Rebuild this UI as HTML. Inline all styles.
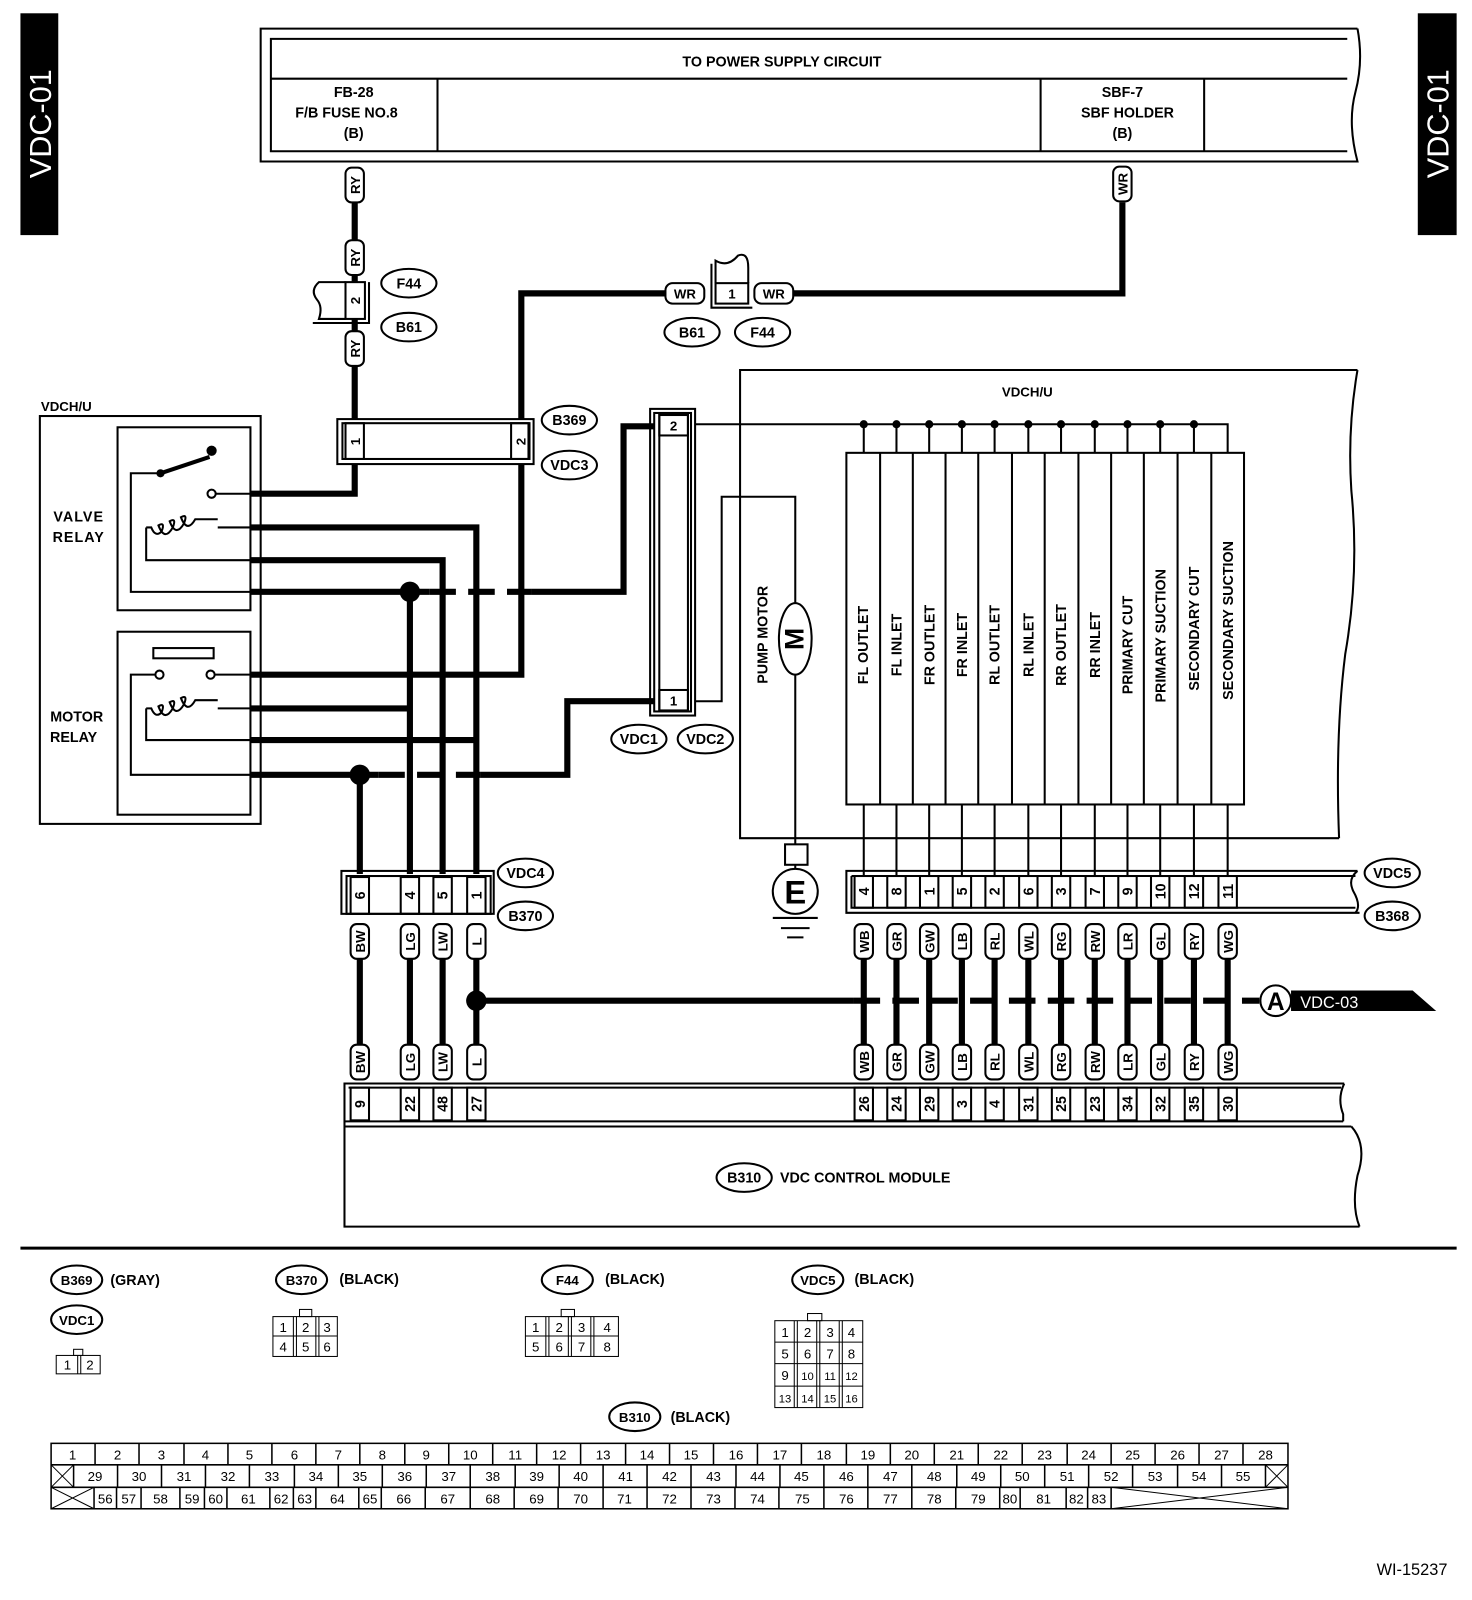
<!DOCTYPE html>
<html><head><meta charset="utf-8"><style>
body{margin:0;background:#fff}
svg{display:block}
text{font-family:"Liberation Sans",Arial,sans-serif;font-weight:bold;fill:#000}
.t{stroke:#000;stroke-width:2;fill:none}
.w{stroke:#000;stroke-width:6;fill:none}
.d{stroke:#000;stroke-width:6;fill:none;stroke-dasharray:26 12}
.p rect{fill:#fff;stroke:#000;stroke-width:2}
.p text{font-size:13px;text-anchor:middle}
.b ellipse{fill:#fff;stroke:#000;stroke-width:2}
.b text{font-size:14px;text-anchor:middle}
.n text{font-size:14px;text-anchor:middle}
.tb text{font-size:13px;font-weight:normal;text-anchor:middle}
</style></head><body>
<svg width="1472" height="1600" viewBox="0 0 1472 1600" xmlns="http://www.w3.org/2000/svg">
<g transform="scale(1.0222)">
<!-- side tabs -->
<rect x="20" y="13" width="37" height="217" fill="#000"/>
<text transform="translate(50,121) rotate(-90)" text-anchor="middle" style="font-size:30px;font-weight:normal;fill:#fff">VDC-01</text>
<rect x="1387" y="13" width="38" height="217" fill="#000"/>
<text transform="translate(1417,121) rotate(-90)" text-anchor="middle" style="font-size:30px;font-weight:normal;fill:#fff">VDC-01</text>

<!-- header -->
<path class="t" d="M1328,28 H255 V158 H1328 Q1318,120 1326,90 Q1334,60 1328,28"/>
<path class="t" d="M1318,38 H265 V148 H1318"/>
<path class="t" d="M265,77 H1318 M428,77 V148 M1018,77 V148 M1178,77 V148"/>
<text x="765" y="65" text-anchor="middle" style="font-size:14px">TO POWER SUPPLY CIRCUIT</text>
<text x="346" y="95" text-anchor="middle" style="font-size:14px">FB-28</text>
<text x="339" y="115" text-anchor="middle" style="font-size:14px">F/B FUSE NO.8</text>
<text x="346" y="135" text-anchor="middle" style="font-size:14px">(B)</text>
<text x="1098" y="95" text-anchor="middle" style="font-size:14px">SBF-7</text>
<text x="1103" y="115" text-anchor="middle" style="font-size:14px">SBF HOLDER</text>
<text x="1098" y="135" text-anchor="middle" style="font-size:14px">(B)</text>

<!-- thick wires top -->
<path class="w" d="M347,198 V235 M347,268 V276 M347,312 V325 M347,357 V410"/>
<path class="w" d="M510,410 V287 H651 M776,287 H1098 V198"/>
<path class="w" d="M347,454 V483 H245 M510,454 V660 H245"/>
<path class="w" d="M245,516 H466 V855 M245,548 H433 V855 M245,579 H420 M401,579 V855 M520,579 H610 V417 H640"/>
<path class="d" d="M420,579 H520"/>
<path class="w" d="M245,693 H401 M245,724 H466 M245,758 H370 M352,758 V855 M470,758 H555 V686 H640"/>
<path class="d" d="M370,758 H470"/>
<circle cx="401" cy="579" r="10"/><circle cx="352" cy="758" r="10"/>

<!-- left F44/B61 connector -->
<path class="t" d="M338,276 H312 Q303,284 310,293 Q316,300 312,312 H338" fill="#fff"/>
<rect x="338" y="276" width="19" height="36" class="t" fill="#fff"/>
<path class="t" d="M361,276 V316 H306"/>
<text transform="translate(352,294) rotate(-90)" text-anchor="middle" style="font-size:13px">2</text>
<!-- right connector -->
<path class="t" d="M700,277 V255 Q712,262 722,250 Q732,246 732,262 V277"/>
<rect x="700" y="277" width="32" height="20" class="t" fill="#fff"/>
<path class="t" d="M696,258 V301 H736"/>
<text x="716" y="292" text-anchor="middle" style="font-size:13px">1</text>

<!-- pills top -->
<g class="p">
<g transform="translate(347,181)"><rect x="-9" y="-17" width="18" height="34" rx="6"/><text transform="rotate(-90)" y="5">RY</text></g>
<g transform="translate(347,252)"><rect x="-9" y="-17" width="18" height="34" rx="6"/><text transform="rotate(-90)" y="5">RY</text></g>
<g transform="translate(347,341)"><rect x="-9" y="-17" width="18" height="34" rx="6"/><text transform="rotate(-90)" y="5">RY</text></g>
<g transform="translate(1098,180)"><rect x="-9" y="-17" width="18" height="34" rx="6"/><text transform="rotate(-90)" y="5">WR</text></g>
<g transform="translate(670,287)"><rect x="-19" y="-10" width="38" height="20" rx="7"/><text y="5">WR</text></g>
<g transform="translate(757,287)"><rect x="-19" y="-10" width="38" height="20" rx="7"/><text y="5">WR</text></g>
</g>

<!-- bubbles -->
<g class="b">
<ellipse cx="400" cy="277" rx="27" ry="14"/><text x="400" y="282">F44</text>
<ellipse cx="400" cy="320" rx="27" ry="14"/><text x="400" y="325">B61</text>
<ellipse cx="677" cy="325" rx="27" ry="14"/><text x="677" y="330">B61</text>
<ellipse cx="746" cy="325" rx="27" ry="14"/><text x="746" y="330">F44</text>
<ellipse cx="557" cy="411" rx="27" ry="14"/><text x="557" y="416">B369</text>
<ellipse cx="557" cy="455" rx="27" ry="14"/><text x="557" y="460">VDC3</text>
<ellipse cx="625" cy="723" rx="27" ry="14"/><text x="625" y="728">VDC1</text>
<ellipse cx="690" cy="723" rx="27" ry="14"/><text x="690" y="728">VDC2</text>
<ellipse cx="514" cy="854" rx="27" ry="14"/><text x="514" y="859">VDC4</text>
<ellipse cx="514" cy="896" rx="27" ry="14"/><text x="514" y="901">B370</text>
<ellipse cx="1362" cy="854" rx="27" ry="14"/><text x="1362" y="859">VDC5</text>
<ellipse cx="1362" cy="896" rx="27" ry="14"/><text x="1362" y="901">B368</text>
<ellipse cx="728" cy="1152" rx="27" ry="14"/><text x="728" y="1157">B310</text>
</g>

<!-- B369 -->
<rect x="330" y="410" width="192" height="44" class="t" fill="#fff"/>
<rect x="335" y="414" width="182" height="35" class="t"/>
<rect x="338" y="414" width="18" height="35" class="t"/><rect x="500" y="414" width="18" height="35" class="t"/>
<text transform="translate(352,432) rotate(-90)" text-anchor="middle" style="font-size:13px">1</text>
<text transform="translate(514,432) rotate(-90)" text-anchor="middle" style="font-size:13px">2</text>

<!-- left VDCH/U -->
<text x="40" y="402" style="font-size:13px">VDCH/U</text>
<rect x="39" y="407" width="216" height="399" class="t"/>
<rect x="115" y="418" width="130" height="179" class="t"/>
<rect x="115" y="618" width="130" height="179" class="t"/>
<text x="77" y="510" text-anchor="middle" style="font-size:14px;letter-spacing:1px">VALVE</text>
<text x="77" y="530" text-anchor="middle" style="font-size:14px;letter-spacing:1px">RELAY</text>
<text x="75" y="706" text-anchor="middle" style="font-size:14px">MOTOR</text>
<text x="72" y="726" text-anchor="middle" style="font-size:14px">RELAY</text>
<!-- valve relay internals -->
<path class="t" d="M157,463 H128 V579 H245"/>
<path stroke="#000" stroke-width="4" d="M157,463 L205,447"/>
<circle cx="157" cy="463" r="4"/><circle cx="207" cy="441" r="5"/>
<circle cx="207" cy="483" r="4" class="t" fill="#fff"/><path class="t" d="M211,483 H245"/>
<path class="t" d="M245,516 H213 M143,516 V548 H245 M143,516 H148 q4,10 10,4 q4,-10 -3,-6 q6,16 14,2 q4,-10 -3,-6 q6,16 14,2 q4,-10 -3,-6 q6,16 14,2 H213"/>
<!-- motor relay internals -->
<rect x="150" y="634" width="59" height="10" class="t"/>
<circle cx="156" cy="660" r="4" class="t" fill="#fff"/><circle cx="206" cy="660" r="4" class="t" fill="#fff"/>
<path class="t" d="M152,660 H128 V758 H245 M210,660 H245"/>
<path class="t" d="M245,693 H213 M143,693 V724 H245 M143,693 H148 q4,10 10,4 q4,-10 -3,-6 q6,16 14,2 q4,-10 -3,-6 q6,16 14,2 q4,-10 -3,-6 q6,16 14,2 H213"/>

<!-- VDC1/VDC2 connector -->
<rect x="636" y="400" width="44" height="300" class="t" fill="#fff"/>
<rect x="640" y="404" width="36" height="292" class="t"/>
<path class="t" d="M645,404 V696 M673,404 V696"/>
<rect x="645" y="406" width="28" height="20" class="t" fill="#fff"/><text x="659" y="421" text-anchor="middle" style="font-size:13px">2</text>
<rect x="645" y="675" width="28" height="20" class="t" fill="#fff"/><text x="659" y="690" text-anchor="middle" style="font-size:13px">1</text>

<!-- right VDCH/U box -->
<path class="t" d="M1328,362 H724 V820 H1310"/>
<path class="t" d="M1328,362 Q1318,420 1322,480 Q1330,560 1316,640 Q1306,720 1310,820"/>
<text x="1005" y="388" text-anchor="middle" style="font-size:13px">VDCH/U</text>
<path class="t" d="M680,415 H1201 V443 M845,415 V443 M877,415 V443 M909,415 V443 M941,415 V443 M973,415 V443 M1006,415 V443 M1038,415 V443 M1071,415 V443 M1103,415 V443 M1135,415 V443 M1168,415 V443"/>
<g><circle cx="845" cy="415" r="4"/><circle cx="877" cy="415" r="4"/><circle cx="909" cy="415" r="4"/><circle cx="941" cy="415" r="4"/><circle cx="973" cy="415" r="4"/><circle cx="1006" cy="415" r="4"/><circle cx="1038" cy="415" r="4"/><circle cx="1071" cy="415" r="4"/><circle cx="1103" cy="415" r="4"/><circle cx="1135" cy="415" r="4"/><circle cx="1168" cy="415" r="4"/></g>
<!-- pump motor -->
<path class="t" d="M680,686 H706 V486 H778 V590 M778,660 V826 M778,846 V850"/>
<ellipse cx="778" cy="625" rx="16" ry="35" class="t" fill="#fff"/>
<text transform="translate(786,625) rotate(-90)" text-anchor="middle" style="font-size:26px">M</text>
<text transform="translate(751,621) rotate(-90)" text-anchor="middle" style="font-size:14px">PUMP MOTOR</text>
<rect x="768" y="826" width="22" height="20" class="t" fill="#fff"/>
<circle cx="778" cy="872" r="22" class="t" fill="#fff"/>
<text x="778" y="884" text-anchor="middle" style="font-size:32px">E</text>
<path class="t" d="M756,898 H800 M764,908 H792 M770,917 H786"/>

<!-- solenoids -->
<rect x="828" y="443" width="389" height="344" class="t" fill="#fff"/>
<path class="t" d="M861,443 V787 M893,443 V787 M925,443 V787 M957,443 V787 M990,443 V787 M1022,443 V787 M1055,443 V787 M1087,443 V787 M1119,443 V787 M1152,443 V787 M1185,443 V787"/>
<g style="font-size:14px" text-anchor="middle">
<text transform="translate(849,631) rotate(-90)">FL OUTLET</text>
<text transform="translate(882,631) rotate(-90)">FL INLET</text>
<text transform="translate(914,631) rotate(-90)">FR OUTLET</text>
<text transform="translate(946,631) rotate(-90)">FR INLET</text>
<text transform="translate(978,631) rotate(-90)">RL OUTLET</text>
<text transform="translate(1011,631) rotate(-90)">RL INLET</text>
<text transform="translate(1043,631) rotate(-90)">RR OUTLET</text>
<text transform="translate(1076,631) rotate(-90)">RR INLET</text>
<text transform="translate(1108,631) rotate(-90)">PRIMARY CUT</text>
<text transform="translate(1140,622) rotate(-90)">PRIMARY SUCTION</text>
<text transform="translate(1173,615) rotate(-90)">SECONDARY CUT</text>
<text transform="translate(1206,607) rotate(-90)">SECONDARY SUCTION</text>
</g>
<path class="t" d="M845,787 V857 M877,787 V857 M909,787 V857 M941,787 V857 M973,787 V857 M1006,787 V857 M1038,787 V857 M1071,787 V857 M1103,787 V857 M1135,787 V857 M1168,787 V857 M1201,787 V857"/>

<!-- B368 connector -->
<path class="t" d="M1328,852 H828 V893 H1330 M833,857 V888 H1326 M1326,857 H833"/>
<path class="t" d="M1328,852 Q1318,860 1324,872 Q1332,886 1326,893" fill="#fff"/>
<g class="n">
<g transform="translate(845,872)"><rect x="-9" y="-15" width="18" height="31" class="t" fill="#fff"/><text transform="rotate(-90)" y="5">4</text></g>
<g transform="translate(877,872)"><rect x="-9" y="-15" width="18" height="31" class="t" fill="#fff"/><text transform="rotate(-90)" y="5">8</text></g>
<g transform="translate(909,872)"><rect x="-9" y="-15" width="18" height="31" class="t" fill="#fff"/><text transform="rotate(-90)" y="5">1</text></g>
<g transform="translate(941,872)"><rect x="-9" y="-15" width="18" height="31" class="t" fill="#fff"/><text transform="rotate(-90)" y="5">5</text></g>
<g transform="translate(973,872)"><rect x="-9" y="-15" width="18" height="31" class="t" fill="#fff"/><text transform="rotate(-90)" y="5">2</text></g>
<g transform="translate(1006,872)"><rect x="-9" y="-15" width="18" height="31" class="t" fill="#fff"/><text transform="rotate(-90)" y="5">6</text></g>
<g transform="translate(1038,872)"><rect x="-9" y="-15" width="18" height="31" class="t" fill="#fff"/><text transform="rotate(-90)" y="5">3</text></g>
<g transform="translate(1071,872)"><rect x="-9" y="-15" width="18" height="31" class="t" fill="#fff"/><text transform="rotate(-90)" y="5">7</text></g>
<g transform="translate(1103,872)"><rect x="-9" y="-15" width="18" height="31" class="t" fill="#fff"/><text transform="rotate(-90)" y="5">9</text></g>
<g transform="translate(1135,872)"><rect x="-9" y="-15" width="18" height="31" class="t" fill="#fff"/><text transform="rotate(-90)" y="5">10</text></g>
<g transform="translate(1168,872)"><rect x="-9" y="-15" width="18" height="31" class="t" fill="#fff"/><text transform="rotate(-90)" y="5">12</text></g>
<g transform="translate(1201,872)"><rect x="-9" y="-15" width="18" height="31" class="t" fill="#fff"/><text transform="rotate(-90)" y="5">11</text></g>
</g>

<!-- B370 connector -->
<rect x="334" y="852" width="149" height="42" class="t" fill="#fff"/>
<rect x="339" y="857" width="141" height="37" class="t"/>
<g class="n">
<g transform="translate(352,876)"><rect x="-9" y="-18" width="18" height="36" class="t" fill="#fff"/><text transform="rotate(-90)" y="5">6</text></g>
<g transform="translate(401,876)"><rect x="-9" y="-18" width="18" height="36" class="t" fill="#fff"/><text transform="rotate(-90)" y="5">4</text></g>
<g transform="translate(433,876)"><rect x="-9" y="-18" width="18" height="36" class="t" fill="#fff"/><text transform="rotate(-90)" y="5">5</text></g>
<g transform="translate(466,876)"><rect x="-9" y="-18" width="18" height="36" class="t" fill="#fff"/><text transform="rotate(-90)" y="5">1</text></g>
</g>

<!-- vertical thick wires between pills -->
<path class="w" d="M352,938 V1022 M401,938 V1022 M433,938 V1022 M466,938 V1022 M845,938 V1022 M877,938 V1022 M909,938 V1022 M941,938 V1022 M973,938 V1022 M1006,938 V1022 M1038,938 V1022 M1071,938 V1022 M1103,938 V1022 M1135,938 V1022 M1168,938 V1022 M1201,938 V1022"/>
<path class="w" d="M466,979 H835"/>
<path class="d" d="M835,979 H1232"/>
<circle cx="466" cy="979" r="10"/>
<circle cx="1248" cy="979" r="15" class="t" fill="#fff"/>
<text x="1248" y="988" text-anchor="middle" style="font-size:24px">A</text>
<path d="M1263,969 H1382 L1405,989 H1263 Z" fill="#000"/>
<text x="1272" y="986" style="font-size:16px;font-weight:normal;fill:#fff">VDC-03</text>

<!-- wire pills -->
<g class="p">
<g transform="translate(352,921)"><rect x="-9" y="-17" width="18" height="34" rx="6"/><text transform="rotate(-90)" y="5">BW</text></g>
<g transform="translate(401,921)"><rect x="-9" y="-17" width="18" height="34" rx="6"/><text transform="rotate(-90)" y="5">LG</text></g>
<g transform="translate(433,921)"><rect x="-9" y="-17" width="18" height="34" rx="6"/><text transform="rotate(-90)" y="5">LW</text></g>
<g transform="translate(466,921)"><rect x="-9" y="-17" width="18" height="34" rx="6"/><text transform="rotate(-90)" y="5">L</text></g>
<g transform="translate(352,1039)"><rect x="-9" y="-17" width="18" height="34" rx="6"/><text transform="rotate(-90)" y="5">BW</text></g>
<g transform="translate(401,1039)"><rect x="-9" y="-17" width="18" height="34" rx="6"/><text transform="rotate(-90)" y="5">LG</text></g>
<g transform="translate(433,1039)"><rect x="-9" y="-17" width="18" height="34" rx="6"/><text transform="rotate(-90)" y="5">LW</text></g>
<g transform="translate(466,1039)"><rect x="-9" y="-17" width="18" height="34" rx="6"/><text transform="rotate(-90)" y="5">L</text></g>
<g transform="translate(845,921)"><rect x="-9" y="-17" width="18" height="34" rx="6"/><text transform="rotate(-90)" y="5">WB</text></g>
<g transform="translate(877,921)"><rect x="-9" y="-17" width="18" height="34" rx="6"/><text transform="rotate(-90)" y="5">GR</text></g>
<g transform="translate(909,921)"><rect x="-9" y="-17" width="18" height="34" rx="6"/><text transform="rotate(-90)" y="5">GW</text></g>
<g transform="translate(941,921)"><rect x="-9" y="-17" width="18" height="34" rx="6"/><text transform="rotate(-90)" y="5">LB</text></g>
<g transform="translate(973,921)"><rect x="-9" y="-17" width="18" height="34" rx="6"/><text transform="rotate(-90)" y="5">RL</text></g>
<g transform="translate(1006,921)"><rect x="-9" y="-17" width="18" height="34" rx="6"/><text transform="rotate(-90)" y="5">WL</text></g>
<g transform="translate(1038,921)"><rect x="-9" y="-17" width="18" height="34" rx="6"/><text transform="rotate(-90)" y="5">RG</text></g>
<g transform="translate(1071,921)"><rect x="-9" y="-17" width="18" height="34" rx="6"/><text transform="rotate(-90)" y="5">RW</text></g>
<g transform="translate(1103,921)"><rect x="-9" y="-17" width="18" height="34" rx="6"/><text transform="rotate(-90)" y="5">LR</text></g>
<g transform="translate(1135,921)"><rect x="-9" y="-17" width="18" height="34" rx="6"/><text transform="rotate(-90)" y="5">GL</text></g>
<g transform="translate(1168,921)"><rect x="-9" y="-17" width="18" height="34" rx="6"/><text transform="rotate(-90)" y="5">RY</text></g>
<g transform="translate(1201,921)"><rect x="-9" y="-17" width="18" height="34" rx="6"/><text transform="rotate(-90)" y="5">WG</text></g>
<g transform="translate(845,1039)"><rect x="-9" y="-17" width="18" height="34" rx="6"/><text transform="rotate(-90)" y="5">WB</text></g>
<g transform="translate(877,1039)"><rect x="-9" y="-17" width="18" height="34" rx="6"/><text transform="rotate(-90)" y="5">GR</text></g>
<g transform="translate(909,1039)"><rect x="-9" y="-17" width="18" height="34" rx="6"/><text transform="rotate(-90)" y="5">GW</text></g>
<g transform="translate(941,1039)"><rect x="-9" y="-17" width="18" height="34" rx="6"/><text transform="rotate(-90)" y="5">LB</text></g>
<g transform="translate(973,1039)"><rect x="-9" y="-17" width="18" height="34" rx="6"/><text transform="rotate(-90)" y="5">RL</text></g>
<g transform="translate(1006,1039)"><rect x="-9" y="-17" width="18" height="34" rx="6"/><text transform="rotate(-90)" y="5">WL</text></g>
<g transform="translate(1038,1039)"><rect x="-9" y="-17" width="18" height="34" rx="6"/><text transform="rotate(-90)" y="5">RG</text></g>
<g transform="translate(1071,1039)"><rect x="-9" y="-17" width="18" height="34" rx="6"/><text transform="rotate(-90)" y="5">RW</text></g>
<g transform="translate(1103,1039)"><rect x="-9" y="-17" width="18" height="34" rx="6"/><text transform="rotate(-90)" y="5">LR</text></g>
<g transform="translate(1135,1039)"><rect x="-9" y="-17" width="18" height="34" rx="6"/><text transform="rotate(-90)" y="5">GL</text></g>
<g transform="translate(1168,1039)"><rect x="-9" y="-17" width="18" height="34" rx="6"/><text transform="rotate(-90)" y="5">RY</text></g>
<g transform="translate(1201,1039)"><rect x="-9" y="-17" width="18" height="34" rx="6"/><text transform="rotate(-90)" y="5">WG</text></g>
</g>

<!-- B310 module -->
<path class="t" d="M1315,1060 H337 V1200 H1330 M1315,1060 Q1308,1075 1314,1090 L1314,1097 M337,1097 H1314 M337,1102 H1322"/>
<path class="t" d="M1322,1102 Q1338,1120 1328,1150 Q1322,1180 1330,1200"/>
<path class="t" d="M341,1064 H1312"/>
<g class="n">
<g transform="translate(352,1080)"><rect x="-9" y="-16" width="18" height="32" class="t" fill="#fff"/><text transform="rotate(-90)" y="5">9</text></g>
<g transform="translate(401,1080)"><rect x="-9" y="-16" width="18" height="32" class="t" fill="#fff"/><text transform="rotate(-90)" y="5">22</text></g>
<g transform="translate(433,1080)"><rect x="-9" y="-16" width="18" height="32" class="t" fill="#fff"/><text transform="rotate(-90)" y="5">48</text></g>
<g transform="translate(466,1080)"><rect x="-9" y="-16" width="18" height="32" class="t" fill="#fff"/><text transform="rotate(-90)" y="5">27</text></g>
<g transform="translate(845,1080)"><rect x="-9" y="-16" width="18" height="32" class="t" fill="#fff"/><text transform="rotate(-90)" y="5">26</text></g>
<g transform="translate(877,1080)"><rect x="-9" y="-16" width="18" height="32" class="t" fill="#fff"/><text transform="rotate(-90)" y="5">24</text></g>
<g transform="translate(909,1080)"><rect x="-9" y="-16" width="18" height="32" class="t" fill="#fff"/><text transform="rotate(-90)" y="5">29</text></g>
<g transform="translate(941,1080)"><rect x="-9" y="-16" width="18" height="32" class="t" fill="#fff"/><text transform="rotate(-90)" y="5">3</text></g>
<g transform="translate(973,1080)"><rect x="-9" y="-16" width="18" height="32" class="t" fill="#fff"/><text transform="rotate(-90)" y="5">4</text></g>
<g transform="translate(1006,1080)"><rect x="-9" y="-16" width="18" height="32" class="t" fill="#fff"/><text transform="rotate(-90)" y="5">31</text></g>
<g transform="translate(1038,1080)"><rect x="-9" y="-16" width="18" height="32" class="t" fill="#fff"/><text transform="rotate(-90)" y="5">25</text></g>
<g transform="translate(1071,1080)"><rect x="-9" y="-16" width="18" height="32" class="t" fill="#fff"/><text transform="rotate(-90)" y="5">23</text></g>
<g transform="translate(1103,1080)"><rect x="-9" y="-16" width="18" height="32" class="t" fill="#fff"/><text transform="rotate(-90)" y="5">34</text></g>
<g transform="translate(1135,1080)"><rect x="-9" y="-16" width="18" height="32" class="t" fill="#fff"/><text transform="rotate(-90)" y="5">32</text></g>
<g transform="translate(1168,1080)"><rect x="-9" y="-16" width="18" height="32" class="t" fill="#fff"/><text transform="rotate(-90)" y="5">35</text></g>
<g transform="translate(1201,1080)"><rect x="-9" y="-16" width="18" height="32" class="t" fill="#fff"/><text transform="rotate(-90)" y="5">30</text></g>
</g>
<text x="763" y="1157" style="font-size:14px">VDC CONTROL MODULE</text>

<!-- legend -->
<path d="M20,1221 H1425" stroke="#000" stroke-width="3"/>
<g class="b">
<ellipse cx="75" cy="1252" rx="25" ry="14"/><text x="75" y="1257" style="font-size:13px">B369</text>
<ellipse cx="75" cy="1291" rx="25" ry="14"/><text x="75" y="1296" style="font-size:13px">VDC1</text>
<ellipse cx="295" cy="1252" rx="25" ry="14"/><text x="295" y="1257" style="font-size:13px">B370</text>
<ellipse cx="555" cy="1252" rx="25" ry="14"/><text x="555" y="1257" style="font-size:13px">F44</text>
<ellipse cx="800" cy="1252" rx="25" ry="14"/><text x="800" y="1257" style="font-size:13px">VDC5</text>
<ellipse cx="621" cy="1386" rx="25" ry="14"/><text x="621" y="1391" style="font-size:13px">B310</text>
</g>
<g style="font-size:14px">
<text x="108" y="1257">(GRAY)</text>
<text x="332" y="1256">(BLACK)</text>
<text x="592" y="1256">(BLACK)</text>
<text x="836" y="1256">(BLACK)</text>
<text x="656" y="1391">(BLACK)</text>
</g>
<g class="tb">
<rect x="72" y="1320" width="9" height="6" class="t" style="stroke-width:1"/>
<rect x="55" y="1326" width="43" height="18" class="t" style="stroke-width:1"/>
<path d="M76,1326 V1344 M79,1326 V1344" stroke="#000"/>
<text x="66" y="1340">1</text><text x="88" y="1340">2</text>
<rect x="293" y="1281" width="12" height="7" class="t" style="stroke-width:1"/>
<rect x="267" y="1288" width="63" height="39" class="t" style="stroke-width:1"/>
<path d="M267,1307 H330 M287,1288 V1327 M309,1288 V1327 M290,1288 V1327 M312,1288 V1327" stroke="#000" stroke-width="1"/>
<text x="277" y="1303">1</text><text x="299" y="1303">2</text><text x="320" y="1303">3</text>
<text x="277" y="1322">4</text><text x="299" y="1322">5</text><text x="320" y="1322">6</text>
<rect x="549" y="1281" width="13" height="7" class="t" style="stroke-width:1"/>
<rect x="514" y="1288" width="91" height="39" class="t" style="stroke-width:1"/>
<path d="M514,1307 H605 M534,1288 V1327 M556,1288 V1327 M578,1288 V1327 M537,1288 V1327 M559,1288 V1327 M581,1288 V1327" stroke="#000" stroke-width="1"/>
<text x="524" y="1303">1</text><text x="547" y="1303">2</text><text x="569" y="1303">3</text><text x="594" y="1303">4</text>
<text x="524" y="1322">5</text><text x="547" y="1322">6</text><text x="569" y="1322">7</text><text x="594" y="1322">8</text>
<rect x="790" y="1285" width="14" height="7" class="t" style="stroke-width:1"/>
<rect x="758" y="1292" width="86" height="85" class="t" style="stroke-width:1"/>
<path d="M758,1313 H844 M758,1334 H844 M758,1356 H844 M777,1292 V1377 M799,1292 V1377 M821,1292 V1377 M780,1292 V1377 M802,1292 V1377 M824,1292 V1377" stroke="#000" stroke-width="1"/>
<text x="768" y="1308">1</text><text x="790" y="1308">2</text><text x="812" y="1308">3</text><text x="833" y="1308">4</text>
<text x="768" y="1329">5</text><text x="790" y="1329">6</text><text x="812" y="1329">7</text><text x="833" y="1329">8</text>
<text x="768" y="1350">9</text><text x="790" y="1350" style="font-size:11px">10</text><text x="812" y="1350" style="font-size:11px">11</text><text x="833" y="1350" style="font-size:11px">12</text>
<text x="768" y="1372" style="font-size:11px">13</text><text x="790" y="1372" style="font-size:11px">14</text><text x="812" y="1372" style="font-size:11px">15</text><text x="833" y="1372" style="font-size:11px">16</text>
</g>

<!-- B310 table -->
<g class="tb" style="font-size:13px">
<rect x="50" y="1412" width="1210" height="64" fill="none" stroke="#000" stroke-width="1.5"/>
<path d="M50,1433 H1260 M50,1455 H1260" stroke="#000" stroke-width="1.5"/>
<path stroke="#000" stroke-width="1.5" d="M93,1412V1433 M136,1412V1433 M180,1412V1433 M223,1412V1433 M266,1412V1433 M309,1412V1433 M352,1412V1433 M396,1412V1433 M439,1412V1433 M482,1412V1433 M525,1412V1433 M568,1412V1433 M612,1412V1433 M655,1412V1433 M698,1412V1433 M741,1412V1433 M784,1412V1433 M828,1412V1433 M871,1412V1433 M914,1412V1433 M957,1412V1433 M1000,1412V1433 M1044,1412V1433 M1087,1412V1433 M1130,1412V1433 M1173,1412V1433 M1216,1412V1433"/>
<path stroke="#000" stroke-width="1.5" d="M72,1433V1455 M115,1433V1455 M158,1433V1455 M201,1433V1455 M244,1433V1455 M288,1433V1455 M331,1433V1455 M374,1433V1455 M417,1433V1455 M460,1433V1455 M504,1433V1455 M547,1433V1455 M590,1433V1455 M633,1433V1455 M676,1433V1455 M720,1433V1455 M763,1433V1455 M806,1433V1455 M849,1433V1455 M892,1433V1455 M936,1433V1455 M979,1433V1455 M1022,1433V1455 M1065,1433V1455 M1108,1433V1455 M1152,1433V1455 M1195,1433V1455 M1238,1433V1455"/>
<path stroke="#000" stroke-width="1.5" d="M92,1455V1476 M114,1455V1476 M138,1455V1476 M176,1455V1476 M200,1455V1476 M222,1455V1476 M264,1455V1476 M287,1455V1476 M309,1455V1476 M351,1455V1476 M373,1455V1476 M416,1455V1476 M460,1455V1476 M503,1455V1476 M546,1455V1476 M590,1455V1476 M633,1455V1476 M676,1455V1476 M719,1455V1476 M762,1455V1476 M806,1455V1476 M849,1455V1476 M892,1455V1476 M935,1455V1476 M978,1455V1476 M998,1455V1476 M1043,1455V1476 M1064,1455V1476 M1087,1455V1476"/>
<path stroke="#000" stroke-width="1" d="M50,1433 L72,1455 M72,1433 L50,1455 M1238,1433 L1260,1455 M1260,1433 L1238,1455 M50,1455 L92,1476 M92,1455 L50,1476 M1087,1455 L1260,1476 M1260,1455 L1087,1476"/>
<text x="71" y="1428">1</text><text x="115" y="1428">2</text><text x="158" y="1428">3</text><text x="201" y="1428">4</text><text x="244" y="1428">5</text><text x="288" y="1428">6</text><text x="331" y="1428">7</text><text x="374" y="1428">8</text><text x="417" y="1428">9</text><text x="460" y="1428">10</text><text x="504" y="1428">11</text><text x="547" y="1428">12</text><text x="590" y="1428">13</text><text x="633" y="1428">14</text><text x="676" y="1428">15</text><text x="720" y="1428">16</text><text x="763" y="1428">17</text><text x="806" y="1428">18</text><text x="849" y="1428">19</text><text x="892" y="1428">20</text><text x="936" y="1428">21</text><text x="979" y="1428">22</text><text x="1022" y="1428">23</text><text x="1065" y="1428">24</text><text x="1108" y="1428">25</text><text x="1152" y="1428">26</text><text x="1195" y="1428">27</text><text x="1238" y="1428">28</text>
<text x="93" y="1449">29</text><text x="136" y="1449">30</text><text x="180" y="1449">31</text><text x="223" y="1449">32</text><text x="266" y="1449">33</text><text x="309" y="1449">34</text><text x="352" y="1449">35</text><text x="396" y="1449">36</text><text x="439" y="1449">37</text><text x="482" y="1449">38</text><text x="525" y="1449">39</text><text x="568" y="1449">40</text><text x="612" y="1449">41</text><text x="655" y="1449">42</text><text x="698" y="1449">43</text><text x="741" y="1449">44</text><text x="784" y="1449">45</text><text x="828" y="1449">46</text><text x="871" y="1449">47</text><text x="914" y="1449">48</text><text x="957" y="1449">49</text><text x="1000" y="1449">50</text><text x="1044" y="1449">51</text><text x="1087" y="1449">52</text><text x="1130" y="1449">53</text><text x="1173" y="1449">54</text><text x="1216" y="1449">55</text>
<text x="103" y="1471">56</text><text x="126" y="1471">57</text><text x="157" y="1471">58</text><text x="188" y="1471">59</text><text x="211" y="1471">60</text><text x="243" y="1471">61</text><text x="275" y="1471">62</text><text x="298" y="1471">63</text><text x="330" y="1471">64</text><text x="362" y="1471">65</text><text x="395" y="1471">66</text><text x="438" y="1471">67</text><text x="482" y="1471">68</text><text x="525" y="1471">69</text><text x="568" y="1471">70</text><text x="611" y="1471">71</text><text x="655" y="1471">72</text><text x="698" y="1471">73</text><text x="741" y="1471">74</text><text x="785" y="1471">75</text><text x="828" y="1471">76</text><text x="871" y="1471">77</text><text x="914" y="1471">78</text><text x="957" y="1471">79</text><text x="988" y="1471">80</text><text x="1021" y="1471">81</text><text x="1053" y="1471">82</text><text x="1075" y="1471">83</text>
</g>
<text x="1416" y="1541" text-anchor="end" style="font-size:16px;font-weight:normal">WI-15237</text>
</g>
</svg>
</body></html>
